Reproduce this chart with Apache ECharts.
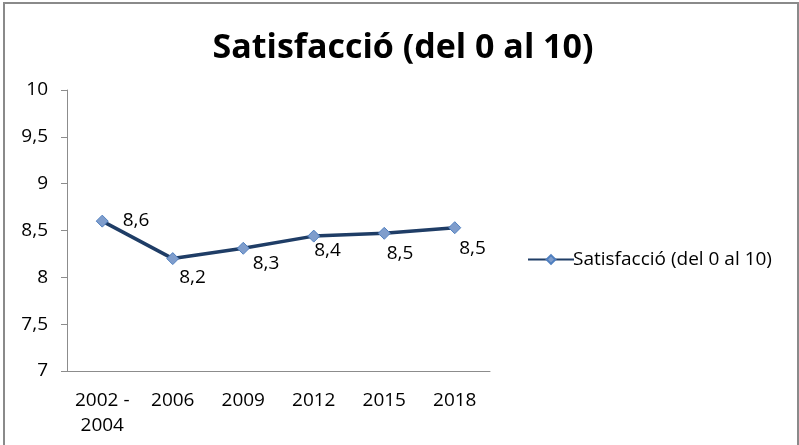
<!DOCTYPE html>
<html>
<head>
<meta charset="utf-8">
<script src="https://cdn.jsdelivr.net/npm/echarts@6/dist/echarts.min.js"></script>
<style>
  body { margin: 0; background: #fff; }
  #frame { position: absolute; left: 3px; top: 2px; width: 792px; height: 470px; border: 2px solid #8a8a8a; }
  #chart { position: absolute; left: 0; top: 0; width: 799px; height: 445px; }
</style>
</head>
<body>
<div id="frame"></div>
<div id="chart"></div>
<script>
const categories = ['2002 -\n2004', '2006', '2009', '2012', '2015', '2018'];
const satisfaction = [8.6, 8.2, 8.31, 8.44, 8.47, 8.53];
const yTicks = [7, 7.5, 8, 8.5, 9, 9.5, 10];

// where Excel put each data label, relative to the point
const labelShift = [[6, -1], [-8, 19], [-5, 15], [-14, 14], [-12, 20], [-10, 21]];

const chart = echarts.init(document.getElementById('chart'));
const font = '"Open Sans", sans-serif';
const comma = v => v.toFixed(1).replace('.', ',');

chart.setOption({
  animation: false,
  title: {
    text: 'Satisfacció (del 0 al 10)',
    left: 398,
    textAlign: 'center',
    top: 26,
    textStyle: { fontFamily: font, fontWeight: 'bold', fontSize: 34, color: '#000' }
  },
  legend: {
    left: 522,
    top: 245,
    itemWidth: 46,
    itemHeight: 11,
    itemGap: 0,
    textStyle: { fontFamily: font, fontSize: 19, color: '#000', padding: [0, 0, 0, -6] },
    data: ['Satisfacció (del 0 al 10)']
  },
  grid: { left: 67, top: 90, right: 309, bottom: 74, outerBoundsMode: 'none' },
  xAxis: {
    type: 'category',
    data: categories,
    boundaryGap: true,
    axisLine: { lineStyle: { color: '#8c8c8c', width: 1 } },
    axisTick: { length: 6, lineStyle: { color: '#8c8c8c' } },
    axisLabel: { margin: 17, fontFamily: font, fontSize: 19, color: '#000', lineHeight: 25, interval: 0 }
  },
  yAxis: {
    type: 'value',
    min: yTicks[0],
    max: yTicks[yTicks.length - 1],
    interval: 0.5,
    splitLine: { show: false },
    axisLine: { show: true, lineStyle: { color: '#8c8c8c', width: 1 } },
    axisTick: { show: true, length: 6, lineStyle: { color: '#8c8c8c' } },
    axisLabel: { margin: 19, fontFamily: font, fontSize: 19, color: '#000', formatter: v => String(v).replace('.', ',') }
  },
  series: [{
    name: 'Satisfacció (del 0 al 10)',
    type: 'line',
    data: satisfaction.map((v, i) => ({
      value: v,
      label: { offset: labelShift[i] }
    })),
    symbol: 'diamond',
    symbolSize: 12,
    lineStyle: { color: '#1f3d66', width: 3.5 },
    itemStyle: { color: '#7f9dcc', borderColor: '#4f7fbf', borderWidth: 1 },
    label: {
      show: true,
      position: 'right',
      distance: 8,
      fontFamily: font,
      fontSize: 19,
      color: '#000',
      formatter: p => comma(p.value)
    }
  }]
});
</script>
</body>
</html>
